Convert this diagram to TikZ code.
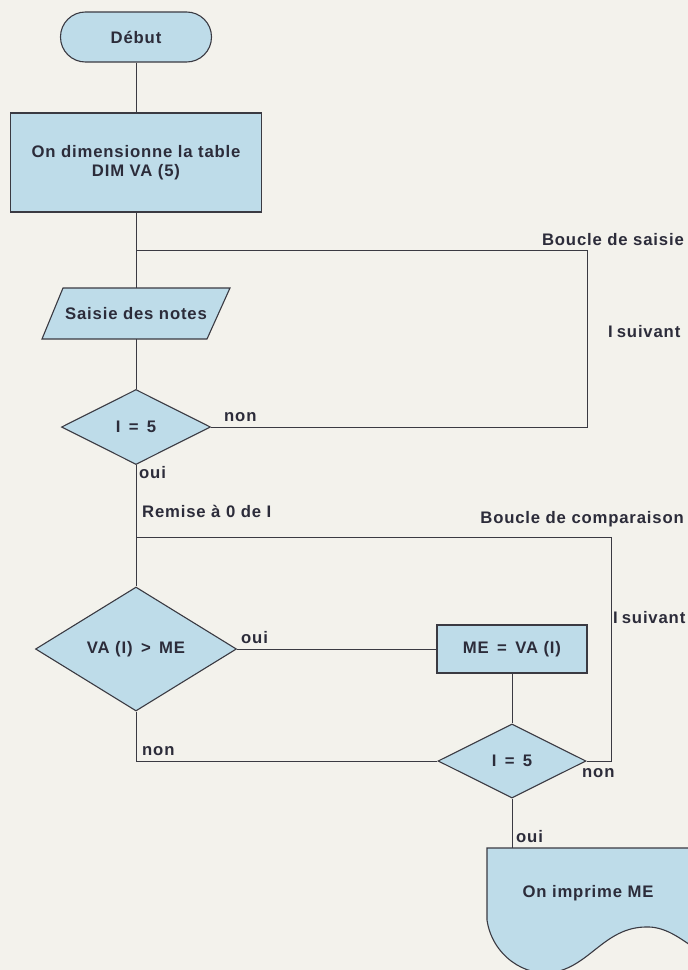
\documentclass[tikz,border=0pt]{standalone}
\usepackage{fontspec}
\setmainfont{Liberation Sans}[LetterSpace=5]
\usetikzlibrary{shapes.geometric}
\definecolor{bg}{RGB}{243,242,236}
\definecolor{fillb}{RGB}{190,220,233}
\definecolor{ink}{RGB}{44,44,58}
\definecolor{edge}{RGB}{58,58,66}
\tikzset{
  every node/.style={font=\fontsize{16.7}{19}\selectfont\bfseries, text=ink},
  boxsty/.style={draw=edge, fill=fillb, line width=1.1pt},
  term/.style={boxsty, rectangle, rounded corners=24.9pt, minimum width=151, minimum height=50},
  procbox/.style={boxsty, rectangle, align=center},
  dia/.style={boxsty, diamond, aspect=2, inner sep=0pt},
  conn/.style={draw=edge, line width=1pt},
  lbl/.style={inner sep=0pt, anchor=base west},
  lblr/.style={inner sep=0pt, anchor=base east},
}
\begin{document}
\begin{tikzpicture}[x=1pt, y=-1pt]
\useasboundingbox (0,0) rectangle (688,970);
\fill[bg] (0,0) rectangle (688,970);

% shapes
\node[term] (debut) at (136,37) {Début};
\node[procbox, minimum width=251, minimum height=99] (dim) at (136,162.5) {On dimensionne la table\\DIM VA (5)};
\filldraw[boxsty] (63,288) -- (230,288) -- (207,339) -- (42,339) -- cycle;
\node[inner sep=0pt, minimum width=150, minimum height=51] (saisie) at (136,313.5) {Saisie des notes};
\node[dia, minimum width=149, minimum height=75] (c1) at (136,427) {I\enspace=\enspace5};
\node[dia, minimum width=201, minimum height=124] (va) at (136,649) {VA (I)\enspace>\enspace ME};
\node[procbox, minimum width=150, minimum height=48] (me) at (512,649) {ME\enspace=\enspace VA (I)};
\node[dia, minimum width=148, minimum height=74] (c2) at (512,761) {I\enspace=\enspace5};
\begin{scope}
  \clip (0,0) rectangle (688,970);
  \draw[boxsty] (487,848) -- (700,848) -- (700,952)
     .. controls (680,938) and (665,926) .. (645,927)
     .. controls (605,928) and (590,965) .. (555,972)
     .. controls (525,978) and (492,955) .. (487,920) -- cycle;
\end{scope}
\node[inner sep=0pt] (doc) at (588,893) {On imprime ME};
\coordinate (doctop) at (512,848);

% connectors
\coordinate (j1) at (136,250);
\coordinate (r1a) at (587,250);
\coordinate (r1b) at (587,427);
\coordinate (j2) at (136,537);
\coordinate (r2a) at (611,537);
\coordinate (r2b) at (611,761);
\draw[conn] (debut) -- (dim);
\draw[conn] (dim) -- (saisie.north);
\draw[conn] (j1) -- (r1a) -- (r1b) -- (c1.east);
\draw[conn] (saisie.south) -- (c1.north);
\draw[conn] (c1.south) -- (va.north);
\draw[conn] (j2) -- (r2a) -- (r2b) -- (c2.east);
\draw[conn] (va.east) -- (me.west);
\draw[conn] (me.south) -- (c2.north);
\draw[conn] (va.south) |- (c2.west);
\draw[conn] (c2.south) -- (doctop);

% labels
\node[lblr] (l1) at (684,245.5) {Boucle de saisie};
\node[lbl] (l2) at (608,337.5) {I\hspace{0.24em}suivant};
\node[lbl] (l3) at (224,421) {non};
\node[lbl] (l4) at (139,478) {oui};
\node[lbl] (l5) at (142,517.5) {Remise à 0 de I};
\node[lblr] (l6) at (684,523.5) {Boucle de comparaison};
\node[lbl] (l7) at (613,623.5) {I\hspace{0.24em}suivant};
\node[lbl] (l8) at (241,643) {oui};
\node[lbl] (l9) at (142,755) {non};
\node[lbl] (l10) at (582,777) {non};
\node[lbl] (l11) at (516,842) {oui};
\end{tikzpicture}
\end{document}
